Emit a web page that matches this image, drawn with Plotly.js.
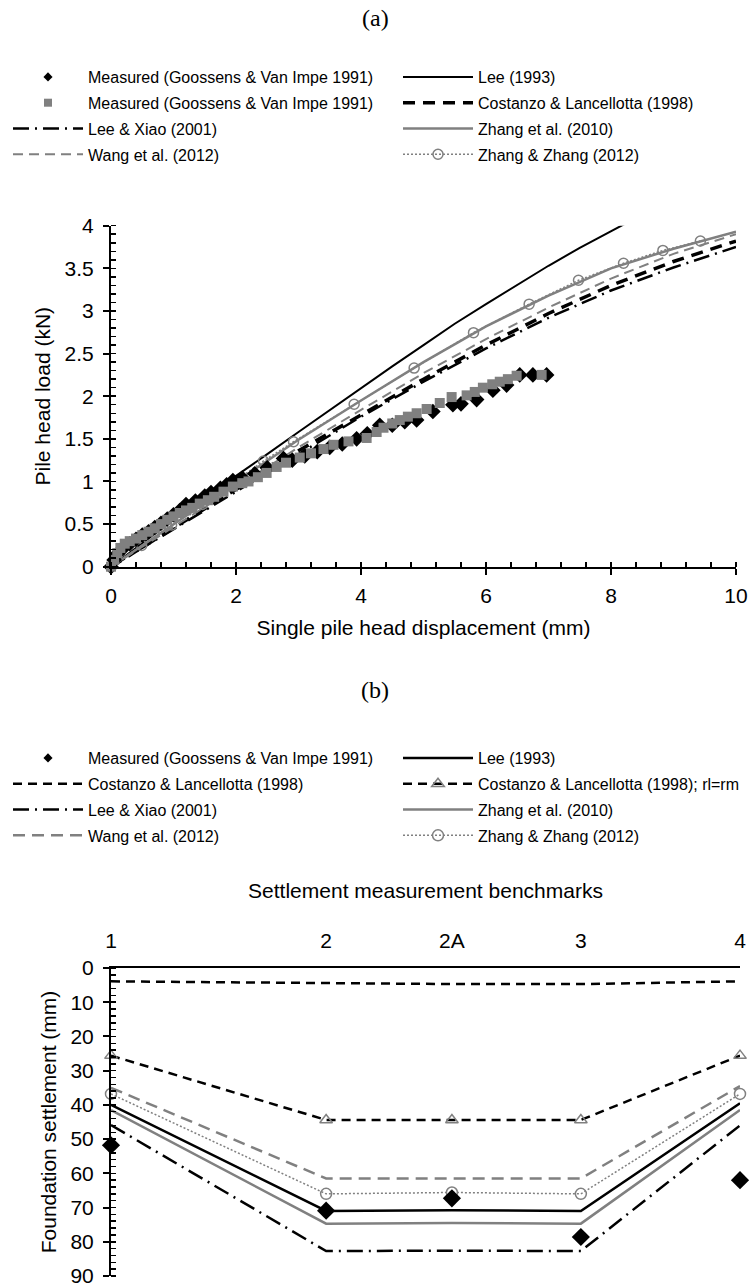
<!DOCTYPE html>
<html><head><meta charset="utf-8">
<script src="https://cdn.plot.ly/plotly-3.0.1.min.js"></script>
<style>html,body{margin:0;padding:0;background:#fff}#chart{width:750px;height:1287px}</style>
</head><body><div id="chart"></div>
<script>
// ---------- Chart (a): pile head load vs displacement ----------
const aMeasDiamondX = [0,0.05,0.1,0.2,0.3,0.4,0.5,0.6,0.7,0.8,0.9,1.0,1.1,1.2,1.35,1.5,1.6,1.75,1.85,1.95,2.1,2.3,2.5,2.76,2.9,3.1,3.3,3.5,3.7,3.93,4.1,4.3,4.5,4.7,4.89,5.15,5.47,5.6,5.85,6.11,6.33,6.54,6.75,6.97];
const aMeasDiamondY = [0,0.08,0.15,0.22,0.27,0.32,0.37,0.41,0.46,0.51,0.56,0.61,0.66,0.73,0.77,0.83,0.87,0.92,0.96,1.01,1.04,1.09,1.16,1.27,1.25,1.3,1.35,1.4,1.44,1.5,1.56,1.66,1.66,1.7,1.72,1.82,1.9,1.91,1.96,2.07,2.13,2.25,2.25,2.25];
const aMeasSquareX = [0,0.05,0.1,0.15,0.22,0.3,0.4,0.5,0.6,0.7,0.8,0.9,1.0,1.1,1.2,1.3,1.42,1.55,1.65,1.8,1.95,2.1,2.2,2.35,2.49,2.65,2.8,3.02,3.2,3.4,3.56,3.8,4.09,4.25,4.36,4.5,4.62,4.75,4.89,5.05,5.26,5.45,5.69,5.82,5.95,6.1,6.22,6.35,6.49,6.89];
const aMeasSquareY = [0,0.08,0.16,0.22,0.27,0.3,0.33,0.37,0.41,0.45,0.5,0.55,0.59,0.63,0.66,0.69,0.74,0.78,0.82,0.88,0.94,0.98,1.0,1.05,1.1,1.17,1.22,1.28,1.33,1.38,1.43,1.47,1.51,1.58,1.63,1.68,1.72,1.76,1.8,1.85,1.92,1.99,2.01,2.05,2.1,2.14,2.17,2.2,2.24,2.25];
const aLeeX = [0,0.5,1,1.5,2,2.5,3,3.5,4,4.5,5,5.5,6,6.5,7,7.5,8,8.5];
const aLeeY = [0,0.28,0.55,0.81,1.06,1.32,1.58,1.84,2.1,2.35,2.6,2.85,3.08,3.31,3.53,3.74,3.94,4.13];
const aModelX = [0,1,2,3,4,5,6,7,8,9,10];
const aCostanzoY = [0,0.45,0.9,1.36,1.78,2.2,2.6,2.97,3.3,3.58,3.82];
const aLeeXiaoY = [0,0.44,0.88,1.33,1.76,2.17,2.56,2.92,3.24,3.51,3.75];
const aZhang2010Y = [0,0.5,1.0,1.49,1.95,2.4,2.82,3.18,3.5,3.73,3.93];
const aWangY = [0,0.47,0.94,1.4,1.84,2.27,2.67,3.04,3.38,3.67,3.9];
const aZhangZhangX = [0,0.49,0.97,1.46,1.95,2.44,2.92,3.89,4.85,5.8,6.69,7.48,8.2,8.83,9.43];
const aZhangZhangY = [0,0.25,0.49,0.73,0.98,1.24,1.466,1.905,2.33,2.745,3.08,3.36,3.56,3.71,3.82];

// ---------- Chart (b): foundation settlement at benchmarks ----------
const bBenchmarks = ['1','2','2A','3','4'];
const bPositions = [0,34.2,54.2,74.7,100];
const bMeasured = [51.8,70.9,67.3,78.6,62.0];
const bLee = [40,71,70.8,71,39.5];
const bCostanzo = [3.9,4.5,4.7,4.7,3.9];
const bCostanzoRlRm = [25.6,44.4,44.4,44.4,25.6];
const bLeeXiao = [45.9,82.7,82.6,82.7,46];
const bZhang2010 = [41.5,74.7,74.5,74.7,41.5];
const bWang = [35,61.5,61.5,61.5,34.5];
const bZhangZhang = [36.8,66,65.6,66,36.8];

const BLACK = '#000000', GRAY = '#808080';
const FONT = 'Liberation Sans, Arial, sans-serif';
const MEAS = 'Measured (Goossens & Van Impe 1991)';

const traces = [
  // chart (a) lines
  {x:aLeeX,y:aLeeY,mode:'lines',name:'Lee (1993)',line:{color:BLACK,width:2},legend:'legend2',legendgroup:'a2',legendrank:1},
  {x:aModelX,y:aCostanzoY,mode:'lines',name:'Costanzo & Lancellotta (1998)',line:{color:BLACK,width:3.5,dash:'12px,8px'},legend:'legend2',legendgroup:'a4',legendrank:2},
  {x:aModelX,y:aLeeXiaoY,mode:'lines',name:'Lee & Xiao (2001)',line:{color:BLACK,width:2.5,dash:'16px,6px,2px,6px'},legendgroup:'a5',legendrank:3},
  {x:aModelX,y:aWangY,mode:'lines',name:'Wang et al. (2012)',line:{color:GRAY,width:2,dash:'10px,6px'},legendgroup:'a7',legendrank:4},
  {x:aZhangZhangX,y:aZhangZhangY,mode:'lines+markers',name:'Zhang & Zhang (2012)',line:{color:GRAY,width:1.5,dash:'2px,2px'},marker:{symbol:'circle-open',size:10,color:GRAY,line:{width:1.5,color:GRAY}},legend:'legend2',legendgroup:'a8',legendrank:4},
  {x:aModelX,y:aZhang2010Y,mode:'lines',name:'Zhang et al. (2010)',line:{color:GRAY,width:2.5},legend:'legend2',legendgroup:'a6',legendrank:3},
  {x:aMeasDiamondX,y:aMeasDiamondY,mode:'markers',name:MEAS,marker:{symbol:'diamond',size:12,color:BLACK},showlegend:false,cliponaxis:false},
  {x:aMeasSquareX,y:aMeasSquareY,mode:'markers',name:MEAS,marker:{symbol:'square',size:10,color:GRAY},showlegend:false,cliponaxis:false},
  // legend keys for the measured series (small symbols as in the key)
  {x:[null],y:[null],mode:'markers',name:MEAS,marker:{symbol:'diamond',size:7,color:BLACK},legendgroup:'a1',legendrank:1},
  {x:[null],y:[null],mode:'markers',name:MEAS,marker:{symbol:'square',size:8,color:GRAY},legendgroup:'a3',legendrank:2},
  // chart (b)
  {x:bPositions,y:bCostanzo,xaxis:'x2',yaxis:'y2',mode:'lines',name:'Costanzo & Lancellotta (1998)',line:{color:BLACK,width:2.5,dash:'9px,6px'},legend:'legend3',legendgroup:'b3',legendrank:2},
  {x:bPositions,y:bCostanzoRlRm,xaxis:'x2',yaxis:'y2',mode:'lines+markers',name:'Costanzo & Lancellotta (1998); rl=rm',line:{color:BLACK,width:2.5,dash:'9px,6px'},marker:{symbol:'triangle-up-open',size:11,color:GRAY,line:{width:1.5,color:GRAY}},legend:'legend4',legendgroup:'b4',legendrank:2,cliponaxis:false},
  {x:bPositions,y:bWang,xaxis:'x2',yaxis:'y2',mode:'lines',name:'Wang et al. (2012)',line:{color:GRAY,width:2.5,dash:'12px,7px'},legend:'legend3',legendgroup:'b7',legendrank:4},
  {x:bPositions,y:bZhangZhang,xaxis:'x2',yaxis:'y2',mode:'lines+markers',name:'Zhang & Zhang (2012)',line:{color:GRAY,width:1.5,dash:'2px,2px'},marker:{symbol:'circle-open',size:11,color:GRAY,line:{width:1.5,color:GRAY}},legend:'legend4',legendgroup:'b8',legendrank:4,cliponaxis:false},
  {x:bPositions,y:bLee,xaxis:'x2',yaxis:'y2',mode:'lines',name:'Lee (1993)',line:{color:BLACK,width:2.5},legend:'legend4',legendgroup:'b2',legendrank:1},
  {x:bPositions,y:bZhang2010,xaxis:'x2',yaxis:'y2',mode:'lines',name:'Zhang et al. (2010)',line:{color:GRAY,width:2.5},legend:'legend4',legendgroup:'b6',legendrank:3},
  {x:bPositions,y:bLeeXiao,xaxis:'x2',yaxis:'y2',mode:'lines',name:'Lee & Xiao (2001)',line:{color:BLACK,width:2.5,dash:'16px,6px,2px,6px'},legend:'legend3',legendgroup:'b5',legendrank:3},
  {x:bPositions,y:bMeasured,xaxis:'x2',yaxis:'y2',mode:'markers',name:MEAS,marker:{symbol:'diamond',size:14,color:BLACK},showlegend:false,cliponaxis:false},
  {x:[null],y:[null],xaxis:'x2',yaxis:'y2',mode:'markers',name:MEAS,marker:{symbol:'diamond',size:7,color:BLACK},legend:'legend3',legendgroup:'b1',legendrank:1}
];

const H = 1287;
const py = v => 1 - v / H;
const legendBase = {orientation:'v',traceorder:'grouped',tracegroupgap:2,itemwidth:70,itemsizing:'trace',
  font:{family:FONT,size:16,color:BLACK},bgcolor:'rgba(0,0,0,0)',xanchor:'left',yanchor:'top'};
const tickFont = {family:FONT,size:21,color:BLACK};
const titleFont = {family:FONT,size:21,color:BLACK};

const layout = {
  width:750,height:H,margin:{l:0,r:0,t:0,b:0},paper_bgcolor:'#fff',plot_bgcolor:'#fff',
  font:{family:FONT,color:BLACK},showlegend:true,
  legend:Object.assign({},legendBase,{x:8/750,y:py(60)}),
  legend2:Object.assign({},legendBase,{x:398/750,y:py(60)}),
  legend3:Object.assign({},legendBase,{x:8/750,y:py(741)}),
  legend4:Object.assign({},legendBase,{x:398/750,y:py(741)}),
  xaxis:{domain:[111/750,736/750],anchor:'y',range:[0,10],dtick:2,tick0:0,showgrid:false,zeroline:false,
    showline:true,linecolor:BLACK,linewidth:2,ticks:'outside',ticklen:6,tickwidth:2,tickcolor:BLACK,ticklabelstandoff:3,
    minor:{dtick:0.4,ticks:'inside',ticklen:5,tickwidth:1.5,tickcolor:BLACK,showgrid:false},
    tickfont:tickFont,title:{text:'Single pile head displacement (mm)',font:titleFont,standoff:14}},
  yaxis:{domain:[py(566.7),py(225.7)],anchor:'x',range:[0,4],dtick:0.5,tick0:0,showgrid:false,zeroline:false,
    showline:true,linecolor:BLACK,linewidth:2,ticks:'outside',ticklen:6,tickwidth:2,tickcolor:BLACK,ticklabelstandoff:5,
    minor:{dtick:0.1,ticks:'inside',ticklen:5,tickwidth:1.5,tickcolor:BLACK,showgrid:false},
    tickfont:tickFont,title:{text:'Pile head load (kN)',font:titleFont,standoff:8}},
  xaxis2:{domain:[111/750,740/750],anchor:'y2',side:'top',range:[0,100],tickvals:bPositions,ticktext:bBenchmarks,
    showgrid:false,zeroline:false,showline:true,linecolor:BLACK,linewidth:2,ticks:'',ticklabelstandoff:10,
    tickfont:tickFont,title:{text:'Settlement measurement benchmarks',font:titleFont,standoff:24}},
  yaxis2:{domain:[py(1276),py(968)],anchor:'x2',range:[90,0],dtick:10,tick0:0,showgrid:false,zeroline:false,
    showline:true,linecolor:BLACK,linewidth:2,ticks:'outside',ticklen:6,tickwidth:2,tickcolor:BLACK,ticklabelstandoff:5,
    ticklabeloverflow:'allow',
    minor:{dtick:2,ticks:'inside',ticklen:5,tickwidth:1.5,tickcolor:BLACK,showgrid:false},
    tickfont:tickFont,title:{text:'Foundation settlement (mm)',font:titleFont,standoff:8}},
  annotations:[
    {text:'(a)',xref:'paper',yref:'paper',x:0.5,y:py(18),yanchor:'middle',showarrow:false,font:{family:'Liberation Serif, Times New Roman, serif',size:24,color:BLACK}},
    {text:'(b)',xref:'paper',yref:'paper',x:0.5,y:py(690),yanchor:'middle',showarrow:false,font:{family:'Liberation Serif, Times New Roman, serif',size:24,color:BLACK}}
  ]
};

Plotly.newPlot('chart',traces,layout,{displayModeBar:false,staticPlot:true});
</script></body></html>
